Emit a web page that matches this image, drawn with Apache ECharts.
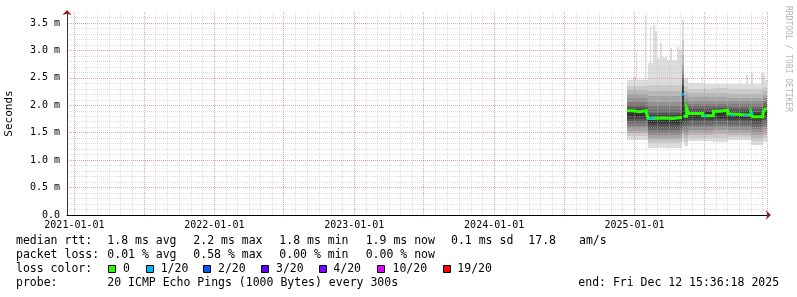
<!DOCTYPE html>
<html><head><meta charset="utf-8">
<script src="https://cdn.jsdelivr.net/npm/echarts@6.0.0/dist/echarts.min.js"></script>
<style>html,body{margin:0;padding:0;background:#fff}#c{width:797px;height:297px}</style>
</head><body><div id="c"></div>
<script>
// ---------------- data ----------------
const axisStart = '2020-12-12T15:36:18';
const axisEnd = '2025-12-12T15:36:18';

// smoke segments: boundaries, and sorted ping percentiles p1..p19 (ms) per segment
const segDates = ['2024-12-12','2025-02-06','2025-05-05','2025-05-09','2025-05-11','2025-05-20','2025-07-26','2025-09-01','2025-11-01','2025-12-02','2025-12-12T15:36:18'];
const segA     = [1.365,1.438,1.493,1.538,1.584,1.629,1.675,1.711,1.747,1.793,1.900,1.930,1.966,2.011,2.066,2.130,2.202,2.275,2.348];
const segB     = [1.229,1.311,1.365,1.411,1.456,1.502,1.547,1.593,1.638,1.684,1.784,1.820,1.866,1.920,1.993,2.066,2.166,2.257,2.366];
const segSpike = [1.33,1.42,1.47,1.51,1.55,1.58,1.62,1.65,1.69,1.73,2.31,2.36,2.42,2.49,2.55,2.62,2.73,2.91,3.19];
const segGap   = [1.79,1.81,1.83,1.85,1.87,1.89,1.91,1.93,1.95,1.97,2.00,2.04,2.08,2.12,2.16,2.20,2.25,2.30,2.36];
const segAfter = [1.256,1.329,1.402,1.456,1.511,1.565,1.620,1.675,1.720,1.775,1.884,1.920,1.966,2.011,2.057,2.111,2.184,2.257,2.348];
const segC     = [1.347,1.411,1.465,1.511,1.556,1.602,1.647,1.693,1.729,1.775,1.875,1.902,1.939,1.984,2.030,2.084,2.148,2.221,2.293];
const segD1    = [1.329,1.411,1.474,1.529,1.575,1.620,1.666,1.711,1.747,1.775,1.893,1.911,1.948,1.984,2.020,2.075,2.148,2.221,2.312];
const segD2    = [1.365,1.420,1.465,1.511,1.556,1.602,1.647,1.693,1.729,1.766,1.866,1.893,1.930,1.975,2.020,2.075,2.139,2.212,2.293];
const segE     = [1.274,1.347,1.411,1.465,1.520,1.565,1.611,1.656,1.702,1.747,1.848,1.884,1.930,1.975,2.020,2.075,2.139,2.212,2.293];
const segF     = [1.329,1.402,1.456,1.511,1.565,1.620,1.675,1.729,1.784,1.838,1.939,1.966,2.002,2.039,2.084,2.130,2.184,2.257,2.330];

// top of the smoke (slowest ping, p20)
const maxDates = ['2024-12-12','2024-12-28','2025-01-05','2025-01-07','2025-01-29','2025-02-01','2025-02-06','2025-02-10','2025-02-14','2025-02-19','2025-02-23','2025-03-01','2025-03-08','2025-03-13','2025-03-26','2025-04-03','2025-04-08','2025-04-21','2025-04-26','2025-05-04','2025-05-05','2025-05-09','2025-05-11','2025-05-20','2025-06-26','2025-06-30','2025-10-18','2025-10-23','2025-10-31','2025-11-05','2025-11-26','2025-12-07','2025-12-12T15:36:18'];
const maxVals  = [2.457,2.512,2.967,2.457,3.640,2.457,2.767,3.422,2.767,3.458,3.349,2.858,3.131,2.876,2.821,3.040,2.821,3.058,3.003,2.730,3.549,2.42,2.494,2.403,2.530,2.384,2.548,2.384,2.585,2.384,2.585,2.457];

// median rtt (ms) per interval and loss level of the interval
const medDates = ['2024-12-12','2024-12-28','2025-01-13','2025-02-01','2025-02-06','2025-02-20','2025-03-15','2025-04-10','2025-05-05','2025-05-09','2025-05-17','2025-05-22','2025-06-28','2025-07-26','2025-08-12','2025-09-01','2025-09-12','2025-11-01','2025-11-05','2025-12-02','2025-12-07','2025-12-12T15:36:18'];
const medVals  = [1.90,1.88,1.90,1.86,1.76,1.77,1.76,1.775,2.20,1.80,1.94,1.85,1.81,1.89,1.91,1.84,1.82,1.86,1.79,1.85,1.93];
const medLoss  = [0,0,0,0,0,0,0,0,1,0,0,0,0,0,0,0,0,0,0,0,0];
// single samples with 1/20 loss
const lossDates = ['2025-02-11','2025-02-20','2025-07-03','2025-09-14','2025-10-18','2025-11-03'];
const lossLevel = [1,1,1,1,1,1];

// y ticks
const yTicks = [0,0.5,1.0,1.5,2.0,2.5,3.0,3.5];

// legend
const lossLabels = ['0','1/20','2/20','3/20','4/20','10/20','19/20'];
const lossColors = ['#26ff00','#00b8ff','#0059ff','#5e00ff','#7e00ff','#dd00ff','#ff0000'];
const rttStats  = ['1.8 ms avg','2.2 ms max','1.8 ms min','1.9 ms now','0.1 ms sd','17.8','am/s'];
const lossStats = ['0.01 % avg','0.58 % max','0.00 % min','0.00 % now'];
const probeText = '20 ICMP Echo Pings (1000 Bytes) every 300s';
const endText   = 'end: Fri Dec 12 15:36:18 2025';
const yName = 'Seconds';
const watermark = 'RRDTOOL / TOBI OETIKER';

// ---------------- build ----------------
function ts(s){ return Date.parse(s.length === 10 ? s + 'T00:00:00Z' : s + 'Z'); }
function idxAt(dates, t){ let k = 0; for (let i = 0; i < dates.length - 1; i++) if (ts(dates[i]) <= t) k = i; return k; }
const segs = [segA, segB, segSpike, segGap, segAfter, segC, segD1, segD2, segE, segF];
const DAY = 86400000;

const smoke = [];
const bounds = Array.from(new Set(segDates.concat(maxDates).map(ts))).sort((a,b)=>a-b);
for (let i = 0; i < bounds.length - 1; i++) {
  const t0 = bounds[i], t1 = bounds[i+1];
  smoke.push([t0, t1, segs[idxAt(segDates, t0)][0], maxVals[idxAt(maxDates, t0)], 1]);
}
for (let s = 0; s < segs.length; s++) {
  const t0 = ts(segDates[s]), t1 = ts(segDates[s+1]);
  for (let b = 2; b <= 10; b++) smoke.push([t0, t1, segs[s][b-1], segs[s][20-b], b]);
}

const green = [];
const blue = [];
for (let i = 0; i < medVals.length; i++) {
  const t0 = ts(medDates[i]), t1 = ts(medDates[i+1]);
  if (medLoss[i] > 0) { green.push(null); blue.push([(t0+t1)/2, medVals[i], medLoss[i]]); continue; }
  green.push([t0, medVals[i]]); green.push([t1, medVals[i]]);
}
lossDates.forEach((d, i) => {
  const t = ts(d);
  blue.push([t, medVals[idxAt(medDates, t)], lossLevel[i]]);
});

function fmtDate(v){
  const d = new Date(v);
  const p = n => String(n).padStart(2,'0');
  return d.getUTCFullYear() + '-' + p(d.getUTCMonth()+1) + '-' + p(d.getUTCDate());
}

const MONO = '"DejaVu Sans Mono"';
const xMin = ts(axisStart), xMax = ts(axisEnd);

// legend graphics
const LF = '11.5px ' + MONO;
const g = [];
function txt(s, x, y){ g.push({type:'text', x:x, y:y, silent:true, style:{text:s, font:LF, fill:'#000', align:'left', verticalAlign:'middle'}}); }
const row = [241.5, 255, 269.3, 282.7];
const statX = [107.3, 193.3, 279.3, 365.7, 451, 528.3, 579];
txt('median rtt:', 16, row[0]);
rttStats.forEach((s,i)=>txt(s, statX[i], row[0]));
txt('packet loss:', 16, row[1]);
lossStats.forEach((s,i)=>txt(s, statX[i], row[1]));
txt('loss color:', 16, row[2]);
const boxX = [108, 146, 203, 261, 319, 377, 443];
const boxTX = [123, 160.7, 218, 276, 333.3, 392.5, 457.3];
lossLabels.forEach((s,i)=>{
  g.push({type:'rect', silent:true, shape:{x:boxX[i]+0.5, y:265.5, width:7, height:7}, style:{fill:lossColors[i], stroke:'#000', lineWidth:1}});
  txt(s, boxTX[i], row[2]);
});
txt('probe:', 16, row[3]);
txt(probeText, 107.3, row[3]);
txt(endText, 578.3, row[3]);
g.push({type:'text', x:788, y:59, rotation:-Math.PI/2, silent:true,
  style:{text:watermark, font:'8px ' + MONO, fill:'#b4b4b4', align:'center', verticalAlign:'middle'}});

const GRAY_MINOR = 'rgba(190,190,190,0.5)';
const RED_MAJOR = 'rgba(235,70,70,0.38)';
const ARROW = '#8b1c1c';

const chart = echarts.init(document.getElementById('c'), null, {renderer:'canvas', devicePixelRatio:1});
chart.setOption({
  animation: false,
  backgroundColor: '#fff',
  grid: {left:67, right:30, top:12, bottom:82, containLabel:false, outerBoundsMode:'none'},
  xAxis: [
    { type:'time', min:xMin, max:xMax, position:'bottom', z:4,
      minInterval:365*DAY, maxInterval:366*DAY,
      axisLine:{show:true, onZero:false, lineStyle:{color:'#000', width:1}},
      axisTick:{show:false},
      axisLabel:{show:true, showMinLabel:false, showMaxLabel:false, margin:5, color:'#000', fontFamily:MONO, fontSize:10,
        formatter:(v)=>fmtDate(v), hideOverlap:false},
      splitLine:{show:false} },
    { type:'time', min:xMin, max:xMax, position:'bottom', z:3,
      minInterval:30.4*DAY, maxInterval:30.5*DAY, splitNumber:60,
      axisLine:{show:false}, axisTick:{show:false}, axisLabel:{show:false},
      splitLine:{show:true, lineStyle:{color:GRAY_MINOR, width:1, type:[1,1]}} },
    { type:'time', min:xMin, max:xMax, position:'bottom', z:4,
      minInterval:183*DAY, maxInterval:183.5*DAY, splitNumber:10,
      axisLine:{show:false}, axisTick:{show:false}, axisLabel:{show:false},
      splitLine:{show:true, lineStyle:{color:RED_MAJOR, width:1, type:[1,1]}} },
    { type:'time', min:xMin, max:xMax, position:'bottom', z:6,
      axisLine:{show:true, onZero:false, symbol:['none','arrow'], symbolSize:[7,5], symbolOffset:[0,4], lineStyle:{color:ARROW, width:0}},
      axisTick:{show:false}, axisLabel:{show:false}, splitLine:{show:false} }
  ],
  yAxis: [
    { type:'value', min:0, max:3.7, interval:0.5, position:'left', z:4,
      name:yName, nameLocation:'middle', nameGap:52, nameRotate:90,
      nameTextStyle:{fontFamily:MONO, fontSize:11, color:'#000'},
      axisLine:{show:true, onZero:false, lineStyle:{color:'#333', width:1}},
      axisTick:{show:false},
      axisLabel:{show:true, showMaxLabel:false, margin:7, color:'#000', fontFamily:MONO, fontSize:10,
        formatter:(v)=> yTicks.indexOf(v) < 0 ? '' : (v === 0 ? '0.0' : v.toFixed(1) + ' m')},
      splitLine:{show:true, showMinLine:false, showMaxLine:false, lineStyle:{color:RED_MAJOR, width:1, type:[1,1]}} },
    { type:'value', min:0, max:3.7, interval:0.1, position:'left', z:3,
      axisLine:{show:false}, axisTick:{show:false}, axisLabel:{show:false},
      splitLine:{show:true, showMinLine:false, showMaxLine:false, lineStyle:{color:GRAY_MINOR, width:1, type:[1,1]}} },
    { type:'value', min:0, max:3.7, position:'left', z:6,
      axisLine:{show:true, onZero:false, symbol:['none','arrow'], symbolSize:[7,5], symbolOffset:[0,2], lineStyle:{color:ARROW, width:0}},
      axisTick:{show:false}, axisLabel:{show:false}, splitLine:{show:false} }
  ],
  series: [
    { type:'custom', name:'smoke', xAxisIndex:0, yAxisIndex:0, z:1, clip:true, silent:true,
      dimensions:['t0','t1','lo','hi','band'],
      encode:{x:[0,1], y:[2,3]},
      data: smoke,
      renderItem: function(params, api){
        const a = api.coord([api.value(0), api.value(3)]);
        const b = api.coord([api.value(1), api.value(2)]);
        const x0 = Math.round(a[0]), x1 = Math.round(b[0]);
        const y0 = Math.round(a[1]), y1 = Math.round(b[1]);
        const band = api.value(4);
        const c = Math.floor(190/10*(10-band)) + 50;
        return {type:'rect', z2:band, shape:{x:x0, y:y0, width:Math.max(x1-x0,0), height:Math.max(y1-y0,0)},
          style:{fill:'rgb('+c+','+c+','+c+')'}};
      } },
    { type:'line', name:'median', xAxisIndex:0, yAxisIndex:0, z:5, silent:true,
      data: green, connectNulls:false, symbol:'none',
      lineStyle:{color:lossColors[0], width:3, cap:'butt', join:'miter'} },
    { type:'scatter', name:'loss', xAxisIndex:0, yAxisIndex:0, z:6, silent:true,
      data: blue, symbol:'rect', symbolSize:[3,3],
      itemStyle:{color:(p)=>lossColors[p.value[2]]} }
  ],
  graphic: g
});
</script></body></html>
